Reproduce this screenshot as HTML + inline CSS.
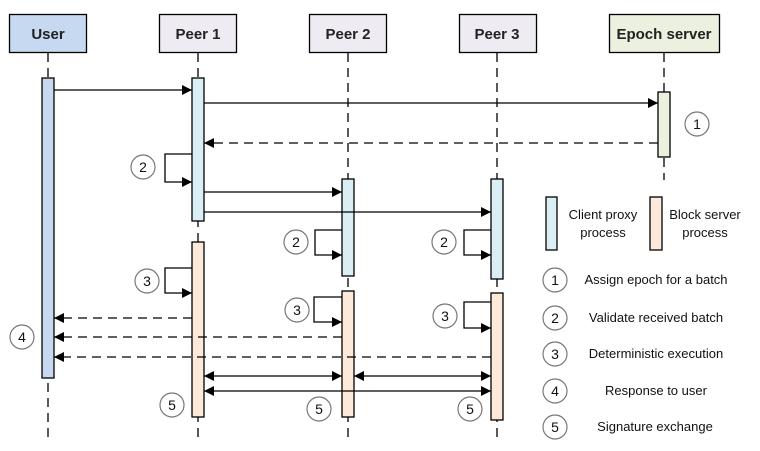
<!DOCTYPE html>
<html><head><meta charset="utf-8"><style>
html,body{margin:0;padding:0;background:#fff;}
svg{display:block;}
text{font-family:"Liberation Sans",sans-serif;}
</style></head><body>
<svg width="760" height="451" viewBox="0 0 760 451" xmlns="http://www.w3.org/2000/svg">
<defs>
<marker id="a" viewBox="0 0 10 10" refX="10" refY="5" markerWidth="10" markerHeight="10" markerUnits="userSpaceOnUse" orient="auto-start-reverse"><path d="M0,0L10,5L0,10z" fill="#000"/></marker>
</defs>
<g stroke="#000" stroke-width="1.3" stroke-dasharray="9,6" fill="none">
<line x1="48" y1="53" x2="48" y2="440"/>
<line x1="198" y1="53" x2="198" y2="440"/>
<line x1="348" y1="53" x2="348" y2="440"/>
<line x1="497" y1="53" x2="497" y2="440"/>
<line x1="664" y1="53" x2="664" y2="180"/>
</g>
<g stroke="#000" stroke-width="1.3">
<rect x="9.5" y="14.5" width="77" height="38" fill="#c6d9f1"/>
<rect x="159.5" y="14.5" width="77" height="38" fill="#eeebf3"/>
<rect x="309.5" y="14.5" width="77" height="38" fill="#eeebf3"/>
<rect x="459.5" y="14.5" width="77" height="38" fill="#eeebf3"/>
<rect x="609.5" y="14.5" width="110" height="38" fill="#ebf1de"/>
</g>
<g font-weight="bold" font-size="15" text-anchor="middle" fill="#222">
<text x="48" y="39">User</text>
<text x="198" y="39">Peer 1</text>
<text x="348" y="39">Peer 2</text>
<text x="497" y="39">Peer 3</text>
<text x="664" y="39">Epoch server</text>
</g>
<g stroke="#000" stroke-width="1.3">
<rect x="42" y="78" width="12" height="300" fill="#c6d9f1"/>
<rect x="192" y="78" width="12" height="143" fill="#dbeef4"/>
<rect x="192" y="242" width="12" height="175" fill="#fde9d9"/>
<rect x="342" y="179" width="12" height="97" fill="#dbeef4"/>
<rect x="342" y="291" width="12" height="126" fill="#fde9d9"/>
<rect x="491" y="179" width="12" height="100" fill="#dbeef4"/>
<rect x="491" y="293" width="12" height="127" fill="#fde9d9"/>
<rect x="658" y="92" width="12" height="65" fill="#ebf1de"/>
<rect x="546" y="197" width="11" height="53" fill="#dbeef4"/>
<rect x="650" y="197" width="12" height="53" fill="#fde9d9"/>
</g>
<g stroke="#000" stroke-width="1.3" fill="none" marker-end="url(#a)">
<line x1="54" y1="90" x2="192" y2="90"/>
<line x1="204" y1="103" x2="658" y2="103"/>
<line x1="204" y1="192" x2="342" y2="192"/>
<line x1="204" y1="212" x2="491" y2="212"/>
<polyline points="192,154 165,154 165,182 192,182"/>
<polyline points="342,230 315,230 315,255 342,255"/>
<polyline points="491,230 464,230 464,255 491,255"/>
<polyline points="192,268 165,268 165,293 192,293"/>
<polyline points="342,297 314,297 314,322 342,322"/>
<polyline points="491,302 464,302 464,328 491,328"/>
</g>
<g stroke="#000" stroke-width="1.3" fill="none" stroke-dasharray="9,6" marker-end="url(#a)">
<line x1="658" y1="143" x2="204" y2="143"/>
<line x1="192" y1="318" x2="54" y2="318"/>
<line x1="342" y1="337" x2="54" y2="337"/>
<line x1="491" y1="357" x2="54" y2="357"/>
</g>
<g stroke="#000" stroke-width="1.3" fill="none" marker-start="url(#a)" marker-end="url(#a)">
<line x1="204" y1="376" x2="342" y2="376"/>
<line x1="354" y1="376" x2="491" y2="376"/>
<line x1="204" y1="391" x2="491" y2="391"/>
</g>
<g stroke="#777" stroke-width="1.2" fill="#fff">
<circle cx="697" cy="124" r="12"/>
<circle cx="143" cy="167" r="12"/>
<circle cx="296" cy="242" r="12"/>
<circle cx="444" cy="242" r="12"/>
<circle cx="147" cy="281" r="12"/>
<circle cx="297" cy="310" r="12"/>
<circle cx="445" cy="316" r="12"/>
<circle cx="22" cy="337" r="12"/>
<circle cx="172" cy="405" r="12"/>
<circle cx="319" cy="409" r="12"/>
<circle cx="470" cy="409" r="12"/>
<circle cx="555" cy="280" r="12"/>
<circle cx="555" cy="318" r="12"/>
<circle cx="555" cy="354" r="12"/>
<circle cx="555" cy="391" r="12"/>
<circle cx="555" cy="427" r="12"/>
</g>
<g font-size="14" text-anchor="middle" fill="#111">
<text x="697" y="129">1</text>
<text x="143" y="172">2</text>
<text x="296" y="247">2</text>
<text x="444" y="247">2</text>
<text x="147" y="286">3</text>
<text x="297" y="315">3</text>
<text x="445" y="321">3</text>
<text x="22" y="342">4</text>
<text x="172" y="410">5</text>
<text x="319" y="414">5</text>
<text x="470" y="414">5</text>
<text x="555" y="285">1</text>
<text x="555" y="323">2</text>
<text x="555" y="359">3</text>
<text x="555" y="396">4</text>
<text x="555" y="432">5</text>
</g>
<g font-size="13" text-anchor="middle" fill="#111">
<text x="603" y="219">Client proxy</text>
<text x="603" y="237">process</text>
<text x="705" y="219">Block server</text>
<text x="705" y="237">process</text>
<text x="656" y="284">Assign epoch for a batch</text>
<text x="656" y="322">Validate received batch</text>
<text x="656" y="358">Deterministic execution</text>
<text x="656" y="395">Response to user</text>
<text x="655" y="431">Signature exchange</text>
</g>
</svg>
</body></html>
